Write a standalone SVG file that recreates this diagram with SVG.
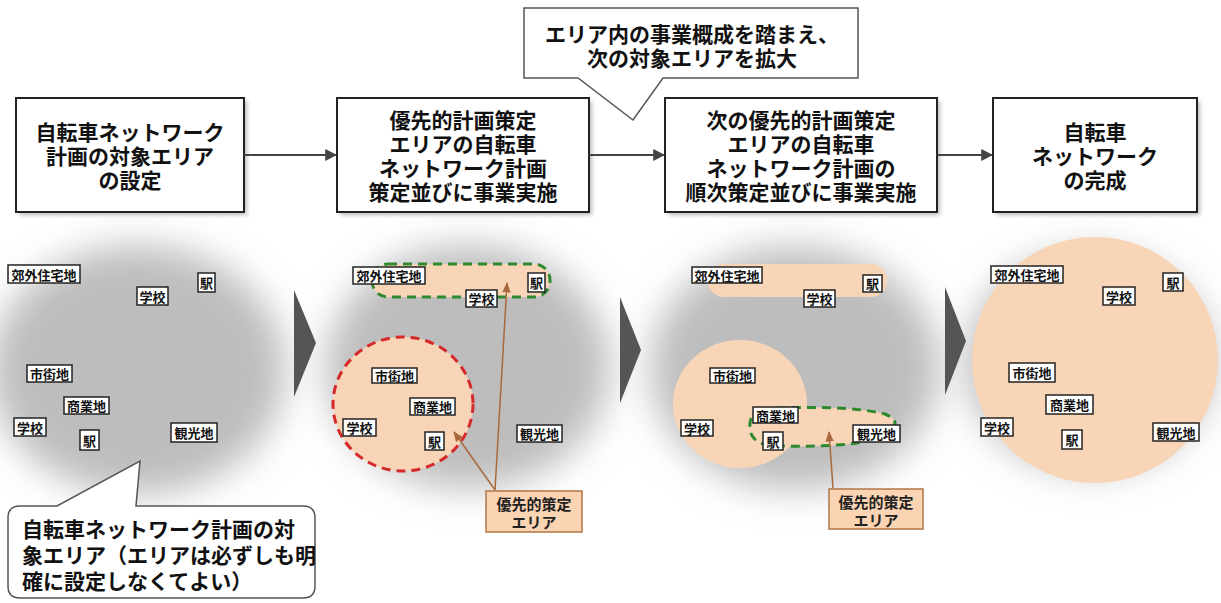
<svg xmlns="http://www.w3.org/2000/svg" width="1221" height="603" viewBox="0 0 1221 603">
<defs>
<style>
.box{fill:#fff;stroke:#222;stroke-width:2}
.bt{font-family:"Noto Sans CJK JP","Noto Sans CJK SC",sans-serif;font-size:21px;font-weight:bold;fill:#111;text-anchor:middle;dominant-baseline:central}
.ct{font-family:"Noto Sans CJK JP","Noto Sans CJK SC",sans-serif;font-size:21px;font-weight:bold;fill:#111;dominant-baseline:central}
.lb{fill:#fff;stroke:#222;stroke-width:1.5}
.lt{font-family:"Noto Sans CJK JP","Noto Sans CJK SC",sans-serif;font-size:13px;font-weight:bold;fill:#111;text-anchor:middle;dominant-baseline:central}
.peach{fill:#f9d5b7}
.pbox{fill:#fbd4b3;stroke:#b07545;stroke-width:1.5}
.pt{font-family:"Noto Sans CJK JP","Noto Sans CJK SC",sans-serif;font-size:15px;font-weight:bold;fill:#222;text-anchor:middle;dominant-baseline:central}
.gray{fill:#bdbdbd;filter:url(#blur)}
.conn{stroke:#444;stroke-width:2;fill:none;marker-end:url(#ah)}
.bro{stroke:#a8693c;stroke-width:1.5;fill:none;marker-end:url(#bh)}
.chev{fill:#555}
.shadow{fill:#bbb;filter:url(#sblur)}
</style>
<filter id="blur" x="-30%" y="-30%" width="160%" height="160%"><feGaussianBlur stdDeviation="18"/></filter>
<filter id="sblur" x="-10%" y="-10%" width="120%" height="120%"><feGaussianBlur stdDeviation="2"/></filter>
<marker id="ah" viewBox="0 0 10 10" refX="9" refY="5" markerWidth="6" markerHeight="6" orient="auto" markerUnits="strokeWidth"><path d="M0,0 L10,5 L0,10 z" fill="#444"/></marker>
<marker id="bh" viewBox="0 0 10 10" refX="9" refY="5" markerWidth="7" markerHeight="7" orient="auto" markerUnits="strokeWidth"><path d="M0,1 L10,5 L0,9 z" fill="#a8693c"/></marker>
</defs>
<rect width="1221" height="603" fill="#fff"/>

<!-- background gray areas -->
<g id="backgrounds">
<ellipse class="gray" cx="138" cy="370" rx="148" ry="125"/>
<ellipse class="gray" cx="468" cy="367" rx="142" ry="122"/>
<ellipse class="gray" cx="795" cy="368" rx="145" ry="122"/>
<ellipse class="gray" cx="1090" cy="362" rx="125" ry="110"/>
</g>

<!-- chevrons -->
<g id="chevrons">
<polygon class="chev" points="294,290 316,343 294,397"/>
<polygon class="chev" points="620,297 641,350 620,403"/>
<polygon class="chev" points="945,287 966,341 945,395"/>
</g>

<!-- top flow boxes -->
<g id="step1">
<rect class="shadow" x="19" y="101" width="228" height="114"/>
<rect class="box" x="16" y="98" width="228" height="114"/>
<text class="bt" x="130" y="131">自転車ネットワーク<tspan x="130" dy="24">計画の対象エリア</tspan><tspan x="130" dy="24">の設定</tspan></text>
</g>
<g id="step2">
<rect class="shadow" x="340" y="101" width="252" height="114"/>
<rect class="box" x="337" y="98" width="252" height="114"/>
<text class="bt" x="463" y="119">優先的計画策定<tspan x="463" dy="24">エリアの自転車</tspan><tspan x="463" dy="24">ネットワーク計画</tspan><tspan x="463" dy="24">策定並びに事業実施</tspan></text>
</g>
<g id="step3">
<rect class="shadow" x="668" y="101" width="272" height="114"/>
<rect class="box" x="665" y="98" width="272" height="114"/>
<text class="bt" x="801" y="119">次の優先的計画策定<tspan x="801" dy="24">エリアの自転車</tspan><tspan x="801" dy="24">ネットワーク計画の</tspan><tspan x="801" dy="24">順次策定並びに事業実施</tspan></text>
</g>
<g id="step4">
<rect class="shadow" x="996" y="101" width="204" height="114"/>
<rect class="box" x="993" y="98" width="204" height="114"/>
<text class="bt" x="1095" y="131">自転車<tspan x="1095" dy="24">ネットワーク</tspan><tspan x="1095" dy="24">の完成</tspan></text>
</g>

<!-- top callout -->
<g id="callout-top">
<path d="M524,8 H858 V78 H663 L633,120 L578,78 H524 Z" fill="#fff" stroke="#555" stroke-width="1.5"/>
<text class="bt" x="692" y="33">エリア内の事業概成を踏まえ、<tspan x="692" dy="24">次の対象エリアを拡大</tspan></text>
</g>

<!-- panel 1 -->
<g id="panel1">
<rect class="lb" x="8" y="265" width="72" height="18"/><text class="lt" x="44" y="274">郊外住宅地</text>
<rect class="lb" x="198" y="273" width="17" height="19"/><text class="lt" x="206.5" y="282.5">駅</text>
<rect class="lb" x="137" y="287" width="31" height="18"/><text class="lt" x="152.5" y="296">学校</text>
<rect class="lb" x="27" y="365" width="45" height="17"/><text class="lt" x="49.5" y="373.5">市街地</text>
<rect class="lb" x="64" y="397" width="45" height="17"/><text class="lt" x="86.5" y="405.5">商業地</text>
<rect class="lb" x="14" y="418" width="32" height="18"/><text class="lt" x="30" y="427">学校</text>
<rect class="lb" x="80" y="430" width="19" height="20"/><text class="lt" x="89.5" y="440">駅</text>
<rect class="lb" x="171" y="423" width="46" height="19"/><text class="lt" x="194" y="432.5">観光地</text>
</g>

<!-- panel 1 callout -->
<g id="callout-bottom">
<path d="M20,506 H57 L140,461 L136,506 H303 Q315,506 315,518 V586 Q315,598 303,598 H20 Q8,598 8,586 V518 Q8,506 20,506 Z" fill="#fff" stroke="#555" stroke-width="1.5"/>
<text class="ct" x="22" y="528">自転車ネットワーク計画の対<tspan x="22" dy="26">象エリア（エリアは必ずしも明</tspan><tspan x="22" dy="26">確に設定しなくてよい）</tspan></text>
</g>

<!-- panel 2 -->
<g id="panel2">
<rect class="peach" x="372" y="264" width="178" height="33" rx="16" stroke="#2e8a2e" stroke-width="3" stroke-dasharray="9,6"/>
<ellipse class="peach" cx="403" cy="404" rx="70" ry="67" stroke="#d42a2a" stroke-width="3" stroke-dasharray="9,6"/>
<rect class="lb" x="353" y="267" width="72" height="17"/><text class="lt" x="389" y="275.5">郊外住宅地</text>
<rect class="lb" x="528" y="273" width="17" height="19"/><text class="lt" x="536.5" y="282.5">駅</text>
<rect class="lb" x="466" y="290" width="31" height="17"/><text class="lt" x="481.5" y="298.5">学校</text>
<rect class="lb" x="372" y="368" width="45" height="15"/><text class="lt" x="394.5" y="375.5">市街地</text>
<rect class="lb" x="410" y="398" width="45" height="17"/><text class="lt" x="432.5" y="406.5">商業地</text>
<rect class="lb" x="343" y="419" width="33" height="17"/><text class="lt" x="359.5" y="427.5">学校</text>
<rect class="lb" x="425" y="432" width="19" height="18"/><text class="lt" x="434.5" y="441">駅</text>
<rect class="lb" x="517" y="425" width="45" height="17"/><text class="lt" x="539.5" y="433.5">観光地</text>
</g>
<g id="priority-label-2">
<rect class="pbox" x="486" y="491" width="96" height="41"/>
<text class="pt" x="534" y="503">優先的策定<tspan x="534" dy="18">エリア</tspan></text>
</g>

<!-- panel 3 -->
<g id="panel3">
<rect class="peach" x="708" y="264" width="179" height="33" rx="16"/>
<ellipse class="peach" cx="740" cy="404" rx="67" ry="64"/>
<path class="peach" d="M762,409 C800,406 860,407 885,414 C900,420 898,428 880,434 C878,444 830,447 780,446 C760,446 752,440 750,430 C749,420 752,411 762,409 Z" stroke="#2e8a2e" stroke-width="3" stroke-dasharray="9,6"/>
<rect class="lb" x="692" y="267" width="70" height="16"/><text class="lt" x="727" y="275">郊外住宅地</text>
<rect class="lb" x="863" y="275" width="19" height="17"/><text class="lt" x="872.5" y="283.5">駅</text>
<rect class="lb" x="804" y="290" width="31" height="17"/><text class="lt" x="819.5" y="298.5">学校</text>
<rect class="lb" x="710" y="368" width="45" height="15"/><text class="lt" x="732.5" y="375.5">市街地</text>
<rect class="lb" x="753" y="407" width="45" height="16"/><text class="lt" x="775.5" y="415">商業地</text>
<rect class="lb" x="681" y="420" width="32" height="16"/><text class="lt" x="697" y="428">学校</text>
<rect class="lb" x="763" y="432" width="20" height="18"/><text class="lt" x="773" y="441">駅</text>
<rect class="lb" x="853" y="425" width="47" height="17"/><text class="lt" x="876.5" y="433.5">観光地</text>
</g>
<g id="priority-label-3">
<rect class="pbox" x="829" y="489" width="94" height="40"/>
<text class="pt" x="876" y="501">優先的策定<tspan x="876" dy="18">エリア</tspan></text>
</g>

<!-- panel 4 -->
<g id="panel4">
<circle class="peach" cx="1095" cy="360" r="123"/>
<rect class="lb" x="991" y="266" width="72" height="17"/><text class="lt" x="1027" y="274.5">郊外住宅地</text>
<rect class="lb" x="1163" y="273" width="20" height="18"/><text class="lt" x="1173" y="282">駅</text>
<rect class="lb" x="1103" y="287" width="32" height="18"/><text class="lt" x="1119" y="296">学校</text>
<rect class="lb" x="1009" y="363" width="46" height="19"/><text class="lt" x="1032" y="372.5">市街地</text>
<rect class="lb" x="1046" y="395" width="47" height="19"/><text class="lt" x="1069.5" y="404.5">商業地</text>
<rect class="lb" x="981" y="418" width="32" height="18"/><text class="lt" x="997" y="427">学校</text>
<rect class="lb" x="1062" y="430" width="20" height="19"/><text class="lt" x="1072" y="439.5">駅</text>
<rect class="lb" x="1153" y="423" width="46" height="18"/><text class="lt" x="1176" y="432">観光地</text>
</g>

<!-- connectors -->
<g id="connectors">
<line class="conn" x1="244" y1="155" x2="336" y2="155"/>
<line class="conn" x1="589" y1="155" x2="664" y2="155"/>
<line class="conn" x1="937" y1="155" x2="992" y2="155"/>
<line class="bro" x1="495" y1="490" x2="454" y2="432"/>
<line class="bro" x1="495" y1="490" x2="507" y2="283"/>
<line class="bro" x1="833" y1="488" x2="829" y2="432"/>
</g>
</svg>
